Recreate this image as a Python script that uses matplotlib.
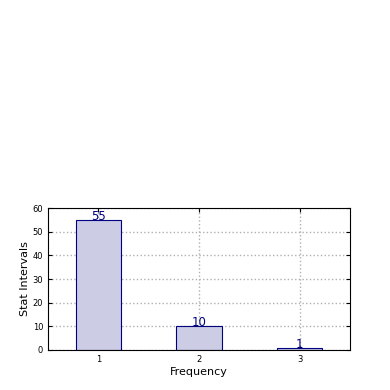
import numpy as np
import matplotlib
matplotlib.use('Agg')
import matplotlib.pyplot as plt

categories = ['1', '2', '3']
counts = [55, 10, 1]

fig = plt.figure(figsize=(3.9, 3.9), dpi=100)
ax = fig.add_axes([0.123, 0.1026, 0.774, 0.364])

x = np.arange(len(categories))
ax.bar(x, counts, width=0.45, color='#ccccE4', edgecolor='navy', linewidth=0.8, zorder=2)
for xi, c in zip(x, counts):
    ax.text(xi, c, str(c), ha='center', va='baseline', color='navy', fontsize=8.5,
            zorder=3)

ax.set_xlim(-0.5, 2.5)
ax.set_ylim(0, 60)
ax.set_xticks(x)
ax.set_xticklabels(categories)
ax.set_yticks(range(0, 61, 10))
ax.tick_params(direction='in', labelsize=6, top=True, right=True, length=3)
ax.grid(True, linestyle=':', color='#b0b0b0', linewidth=1, zorder=0)
ax.set_axisbelow(True)
ax.set_xlabel('Frequency', fontsize=8, labelpad=2)
ax.set_ylabel('Stat Intervals', fontsize=8, labelpad=2)

fig.savefig('out.png', dpi=100)
